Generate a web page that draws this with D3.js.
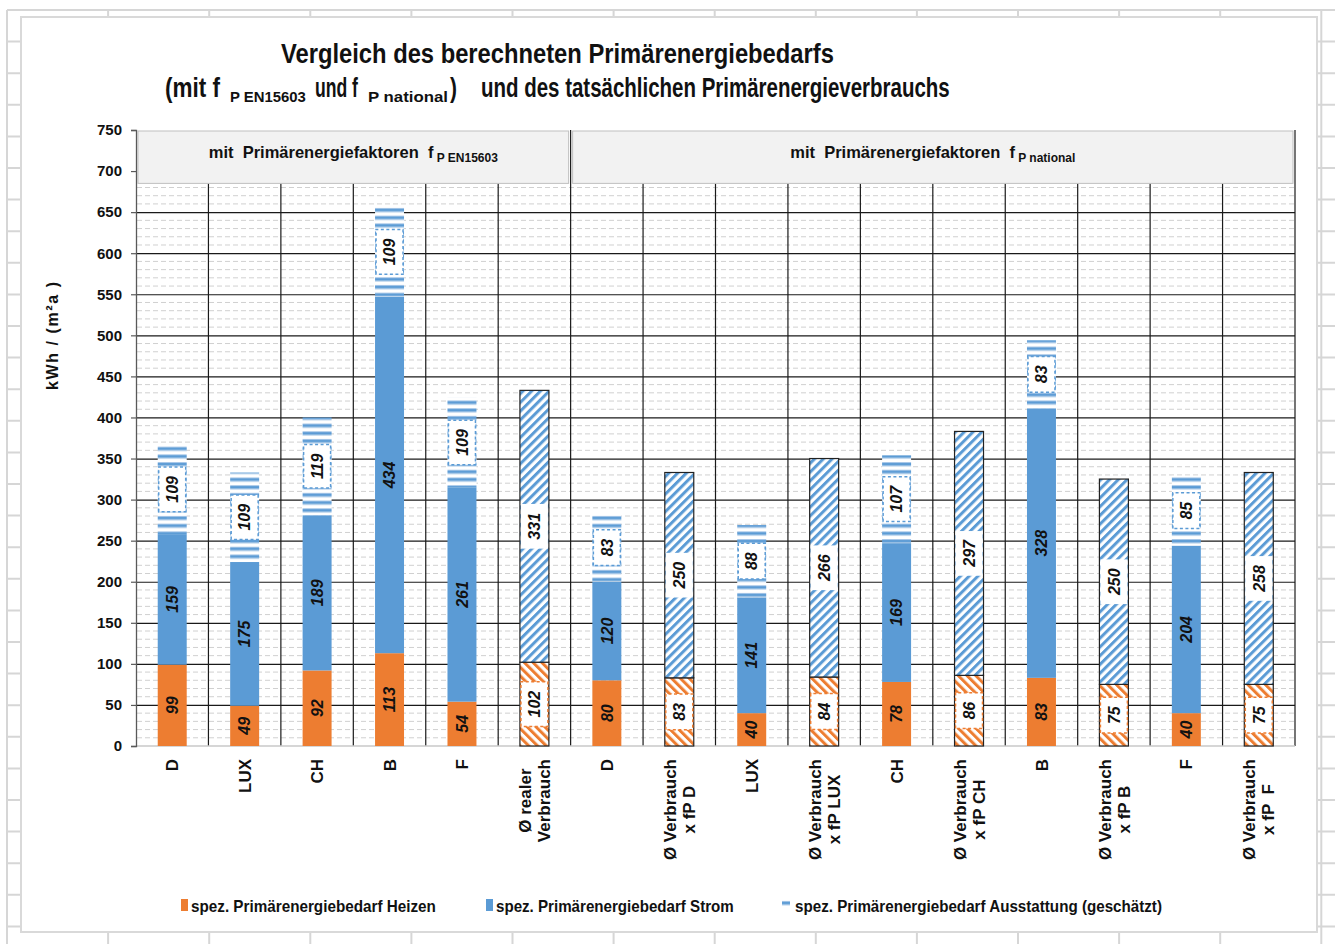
<!DOCTYPE html>
<html><head><meta charset="utf-8">
<script src="https://cdn.jsdelivr.net/npm/d3@7"></script>
<style>
body{margin:0;background:#fff;}
svg{display:block;}
text{font-family:"Liberation Sans",Arial,sans-serif;}
</style>
</head><body>
<svg id="c" width="1335" height="944"></svg>
<script>
// ---------- DATA ----------
const categories = ["D","LUX","CH","B","F","Ø realer\nVerbrauch","D","Ø Verbrauch\nx fP D","LUX","Ø Verbrauch\nx fP LUX","CH","Ø Verbrauch\nx fP CH","B","Ø Verbrauch\nx fP B","F","Ø Verbrauch\nx fP  F"];
const heizen      = [99, 49, 92, 113, 54, 102, 80, 83, 40, 84, 78, 86, 83, 75, 40, 75];
const strom       = [159,175,189,434,261,331,120,250,141,266,169,297,328,250,204,258];
const ausstattung = [109,109,119,109,109,null,83,null,88,null,107,null,83,null,85,null];
const measured    = [false,false,false,false,false,true,false,true,false,true,false,true,false,true,false,true];
const yTicks = [0,50,100,150,200,250,300,350,400,450,500,550,600,650,700,750];
const groupLabels = ["mit  Primärenergiefaktoren  f","mit  Primärenergiefaktoren  f"];
const groupSubs   = [" P EN15603"," P national"];
const groupRanges = [[0,6],[6,16]];
const seriesNames = ["spez. Primärenergiebedarf Heizen","spez. Primärenergiebedarf Strom","spez. Primärenergiebedarf Ausstattung (geschätzt)"];
const yTitle = "kWh / (m²a )";

// ---------- SETUP ----------
const W = 1335, H = 944;
const ORANGE = "#ed7d31", BLUE = "#5b9bd5";
const svg = d3.select("#c");
const defs = svg.append("defs");

// patterns
const pH = defs.append("pattern").attr("id","stripeH").attr("patternUnits","userSpaceOnUse").attr("width",8).attr("height",7.7);
pH.append("rect").attr("width",8).attr("height",7.7).attr("fill","#fff");
pH.append("rect").attr("y",0).attr("width",8).attr("height",1).attr("fill","#a9c8e8");
pH.append("rect").attr("y",1).attr("width",8).attr("height",2.6).attr("fill",BLUE);
pH.append("rect").attr("y",3.6).attr("width",8).attr("height",0.8).attr("fill","#a9c8e8");

function hatch(id, color, angle){
  const p = defs.append("pattern").attr("id",id).attr("patternUnits","userSpaceOnUse")
    .attr("width",6.2).attr("height",6.2).attr("patternTransform",`rotate(${angle})`);
  p.append("rect").attr("width",6.2).attr("height",6.2).attr("fill","#fff");
  p.append("rect").attr("x",0).attr("width",3).attr("height",6.2).attr("fill",color);
}
hatch("hatchB", BLUE, 45);
hatch("hatchO", ORANGE, -45);

// ---------- SPREADSHEET BACKGROUND ----------
const bg = svg.append("g");
for (let yy = 10; yy < H; yy += 31.6) bg.append("line").attr("x1",7).attr("x2",W).attr("y1",yy).attr("y2",yy).attr("stroke","#d6d6d6").attr("stroke-width",2);
for (let xx = 7; xx < W; xx += 101.1) bg.append("line").attr("x1",xx).attr("x2",xx).attr("y1",10).attr("y2",H).attr("stroke","#d6d6d6").attr("stroke-width",2);
bg.append("rect").attr("x",21).attr("y",17).attr("width",1296).attr("height",915)
  .attr("fill","#fff").attr("stroke","#d9d9d9").attr("stroke-width",2);

// ---------- SCALES ----------
const x = d3.scaleBand().domain(d3.range(categories.length)).range([136,1295]).paddingInner(0.6).paddingOuter(0.3);
const y = d3.scaleLinear().domain([0,750]).range([746,130]);
const step = x.step(), bw = x.bandwidth();
const bound = i => x(0) - step*0.3 + i*step;
const boxBottom = 685;

// ---------- GRID ----------
const grid = svg.append("g");
const minor = d3.range(10, boxBottom, 10).filter(v => v % 50 !== 0);
grid.selectAll("line.minor").data(minor).join("line")
  .attr("x1",137).attr("x2",1295).attr("y1",d=>y(d)).attr("y2",d=>y(d))
  .attr("stroke","#d0d0d0").attr("stroke-dasharray","5,3");
grid.selectAll("line.major").data(yTicks.filter(v => v>0 && v<boxBottom)).join("line")
  .attr("x1",136).attr("x2",1295).attr("y1",d=>y(d)+0.5).attr("y2",d=>y(d)+0.5)
  .attr("stroke","#1a1a1a").attr("stroke-width",1.2);
grid.selectAll("line.vert").data(d3.range(1,categories.length+1)).join("line")
  .attr("x1",d=>bound(d)).attr("x2",d=>bound(d))
  .attr("y1",d=> (d===6||d===16) ? y(750) : y(boxBottom)).attr("y2",y(0))
  .attr("stroke","#1a1a1a").attr("stroke-width",1.2);
grid.append("line").attr("x1",136).attr("x2",1295).attr("y1",y(0)).attr("y2",y(0)).attr("stroke","#c8c8c8").attr("stroke-width",1.5);

// header boxes
groupRanges.forEach((r,gi) => {
  const x0 = bound(r[0]) + 2, x1 = bound(r[1]) - 2;
  svg.append("rect").attr("x",x0).attr("y",y(750)+1).attr("width",x1-x0).attr("height",y(boxBottom)-y(750)-1)
    .attr("fill","#f2f2f2").attr("stroke","#bfbfbf").attr("stroke-width",1);
  const t = svg.append("text").attr("x",(x0+x1)/2).attr("y",158).attr("text-anchor","middle")
    .attr("font-size",16.5).attr("font-weight","bold").attr("fill","#111").style("white-space","pre");
  t.append("tspan").text(groupLabels[gi]);
  t.append("tspan").attr("font-size",12).attr("dy",4).text(groupSubs[gi]);
});

// ---------- Y AXIS ----------
const yAxis = svg.append("g").attr("transform","translate(136,0)")
  .call(d3.axisLeft(y).tickValues(yTicks).tickSize(5).tickPadding(9));
yAxis.select(".domain").attr("stroke","#595959").attr("stroke-width",1.3);
yAxis.selectAll(".tick line").attr("stroke","#595959").attr("stroke-width",1.2);
yAxis.selectAll(".tick text").attr("font-size",15).attr("font-weight","bold").attr("fill","#111")
  .attr("font-family","'Liberation Sans',Arial,sans-serif");

svg.append("text").attr("transform","translate(58,336) rotate(-90)").attr("text-anchor","middle")
  .attr("font-size",16).attr("font-weight","bold").attr("fill","#111")
  .attr("textLength",108).attr("lengthAdjust","spacing").text(yTitle);

// ---------- BARS ----------
const segs = [];
categories.forEach((c,i) => {
  const m = measured[i];
  segs.push({i, y0:0, y1:heizen[i], v:heizen[i], fill: m ? "url(#hatchO)" : ORANGE, m, kind: m ? "hO" : "solid", border: ORANGE});
  segs.push({i, y0:heizen[i], y1:heizen[i]+strom[i], v:strom[i], fill: m ? "url(#hatchB)" : BLUE, m, kind: m ? "hB" : "solid", border: null});
  if (ausstattung[i] != null) {
    const b = heizen[i]+strom[i];
    segs.push({i, y0:b, y1:b+ausstattung[i], v:ausstattung[i], fill:"url(#stripeH)", m:false, kind:"aus", border: BLUE});
  }
});
const bars = svg.append("g");
bars.selectAll("rect").data(segs).join("rect")
  .attr("x",d=>x(d.i)).attr("width",bw)
  .attr("y",d=>y(d.y1)).attr("height",d=>y(d.y0)-y(d.y1))
  .attr("fill",d=>d.fill)
  .attr("stroke",d=>d.m ? "#222" : "none").attr("stroke-width",1.2);

// labels
const lab = svg.append("g");
segs.forEach(d => {
  const cx = x(d.i) + bw/2, cy = (y(d.y0)+y(d.y1))/2;
  const g = lab.append("g").attr("transform",`translate(${cx},${cy}) rotate(-90)`);
  const t = g.append("text").attr("text-anchor","middle").attr("dy","0.36em")
    .attr("font-size",16).attr("font-weight","bold").attr("font-style","italic").attr("fill","#111").text(d.v);
  if (d.kind !== "solid") {
    const len = t.node().getComputedTextLength();
    const pad = 9;
    const r = g.insert("rect","text").attr("x",-len/2-pad).attr("y",-bw/2+1).attr("width",len+2*pad).attr("height",bw-2)
      .attr("fill","#fff");
    if (d.border) r.attr("stroke",d.border).attr("stroke-width",1.5).attr("stroke-dasharray","3,2.5");
  }
});

// ---------- X LABELS ----------
const xl = svg.append("g");
categories.forEach((c,i) => {
  const lines = c.split("\n");
  const g = xl.append("g").attr("transform",`translate(${x(i)+bw/2},759) rotate(-90)`);
  const ts = lines.map((ln,k) => g.append("text").attr("text-anchor","middle").style("white-space","pre")
    .attr("font-size",17).attr("font-weight","bold").attr("fill","#111")
    .attr("y",(k-(lines.length-1)/2)*19).attr("dy","0.36em").text(ln));
  const maxW = d3.max(ts, t => t.node().getComputedTextLength());
  ts.forEach(t => t.attr("x",-maxW/2));
});

// ---------- TITLE (condensed via horizontal scaling) ----------
function tt(txt,xp,yp,fs,len){
  const t = svg.append("text").attr("font-size",fs).attr("font-weight","bold")
    .attr("fill","#111").style("white-space","pre").text(txt);
  const w0 = t.node().getComputedTextLength();
  t.attr("transform",`translate(${xp},${yp}) scale(${len/w0},1)`);
  return t;
}
tt("Vergleich des berechneten Primärenergiebedarfs",281,63,28,553);
tt("(mit f",165,97,28,55);
tt("P EN15603",230,102,15,76);
tt("und f",315,97,28,43);
tt("P national",368,102,15,80);
tt(")",450,97,28,7);
tt("und des tatsächlichen Primärenergieverbrauchs",481,97,28,469);

// ---------- LEGEND ----------
const lg = svg.append("g");
const legFills = [ORANGE, BLUE, "url(#stripeH)"];
const legX = [181, 486, 782];
const legLen = [245, 238, 367];
seriesNames.forEach((n,k) => {
  lg.append("rect").attr("x",legX[k]).attr("y",899).attr("width",k===2?8:7).attr("height",k===2?9:12).attr("fill",legFills[k]);
  tt(n, legX[k]+(k===2?13:10), 912, 17, legLen[k]);
});
</script>
</body></html>
